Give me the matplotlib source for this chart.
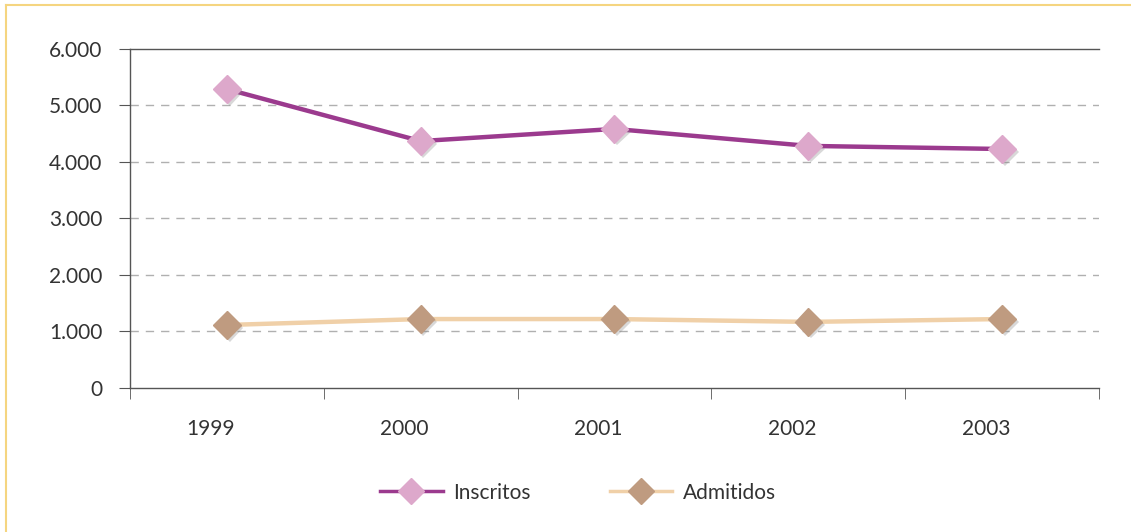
import matplotlib
matplotlib.use("Agg")
import matplotlib.pyplot as plt
import matplotlib.patheffects as pe
import matplotlib.transforms as mtransforms
from matplotlib.lines import Line2D
from matplotlib.ticker import FuncFormatter


YEARS = ["1999", "2000", "2001", "2002", "2003"]
INSCRITOS = [5290, 4370, 4585, 4285, 4230]
ADMITIDOS = [1115, 1220, 1220, 1170, 1220]

plt.rcParams["font.family"] = ["Lato", "DejaVu Sans"]


def thousands(v, pos):
    return f"{int(v):,}".replace(",", ".")


def main():
    fig = plt.figure(figsize=(11.31, 5.32), dpi=100)
    ax = fig.add_axes([0.1149, 0.2707, 0.8568, 0.6372])

    x = list(range(len(YEARS)))
    shadow = [pe.SimplePatchShadow(offset=(2, -2), shadow_rgbFace="gray", alpha=0.3), pe.Normal()]

    series = [
        (INSCRITOS, "Inscritos", "#9B3A8E", "#DDA8CB"),
        (ADMITIDOS, "Admitidos", "#F0D0A8", "#BF9B80"),
    ]
    for vals, name, lc, mc in series:
        ax.plot(x, vals, color=lc, lw=3.2, zorder=3)
        ax.plot(x, vals, ls="none", marker="D", ms=14, mfc=mc, mec=mc,
                zorder=4, path_effects=shadow)
        # legend proxy
        ax.plot([], [], color=lc, lw=2.5, marker="D", ms=13, mfc=mc, mec=mc, label=name)

    ax.set_xlim(-0.5, len(YEARS) - 0.5)
    ax.set_ylim(0, 6000)
    ax.set_yticks(range(0, 6001, 1000))
    ax.yaxis.set_major_formatter(FuncFormatter(thousands))
    ax.set_xticks(x)
    ax.set_xticklabels(YEARS)
    ax.set_xticks([i - 0.5 for i in range(len(YEARS) + 1)], minor=True)

    for y in range(1000, 6000, 1000):
        ax.axhline(y, color="#b0b0b0", lw=1, ls=(0, (6, 5)), zorder=1)

    for side in ["left", "bottom", "top"]:
        ax.spines[side].set_color("#555555")
        ax.spines[side].set_linewidth(1)
    ax.spines["right"].set_visible(False)

    ax.tick_params(axis="x", which="major", length=0, pad=22, labelsize=15, labelcolor="#333333")
    ax.tick_params(axis="x", which="minor", length=8, color="#555555")
    ax.tick_params(axis="y", length=8, color="#555555", labelsize=15, labelcolor="#333333", pad=12)

    # year labels sit a bit left of the markers in the original
    shift = mtransforms.ScaledTranslation(-16 / 100, 0, fig.dpi_scale_trans)
    for lbl in ax.get_xticklabels():
        lbl.set_transform(lbl.get_transform() + shift)

    fig.legend(loc="center", bbox_to_anchor=(0.511, 0.074), ncol=2, frameon=False,
               fontsize=15, handlelength=3.0, columnspacing=3.8, handletextpad=0.5,
               labelcolor="#333333")

    # frame lines around the figure (top and left)
    fig.add_artist(Line2D([0.0053, 1.0], [0.9906, 0.9906], color="#F5D580", lw=1.5,
                          transform=fig.transFigure))
    fig.add_artist(Line2D([0.0053, 0.0053], [0.0, 0.9906], color="#F5D580", lw=1.5,
                          transform=fig.transFigure))

    fig.savefig("out.png", dpi=100)


if __name__ == "__main__":
    main()
